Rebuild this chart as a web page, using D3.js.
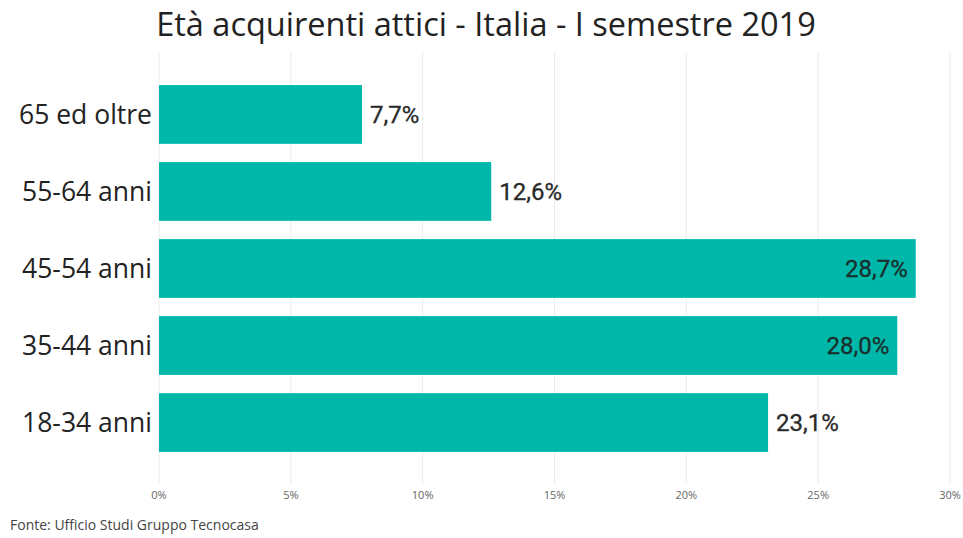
<!DOCTYPE html>
<html><head><meta charset="utf-8">
<script src="https://cdn.jsdelivr.net/npm/d3@7"></script>
<style>body{margin:0;background:#fff}svg{display:block}</style>
</head><body>
<svg id="c" width="963" height="538"></svg>
<script>
const categories = ["65 ed oltre","55-64 anni","45-54 anni","35-44 anni","18-34 anni"];
const values = [7.7, 12.6, 28.7, 28.0, 23.1];
const valueLabels = ["7,7%","12,6%","28,7%","28,0%","23,1%"];
const ticks = [0,5,10,15,20,25,30];
const tickLabels = ["0%","5%","10%","15%","20%","25%","30%"];

const svg = d3.select("#c");
const x = d3.scaleLinear().domain([0,30]).range([159,950]);
const y = d3.scaleBand().domain(categories).range([76,461]).paddingInner(0.237).paddingOuter(0.118);

svg.append("text").attr("x",486).attr("y",36).attr("text-anchor","middle")
  .attr("font-family","Open Sans").attr("font-size",32.5).attr("fill","#222")
  .text("Età acquirenti attici - Italia - I semestre 2019");

svg.append("g").selectAll("line").data(ticks).join("line")
  .attr("x1",d=>x(d)).attr("x2",d=>x(d)).attr("y1",52).attr("y2",484)
  .attr("stroke","#ececec").attr("stroke-width",1);

svg.append("g").selectAll("text").data(ticks).join("text")
  .attr("x",d=>x(d)).attr("y",499).attr("text-anchor","middle")
  .attr("font-family","Open Sans").attr("font-size",11).attr("fill","#666")
  .text((d,i)=>tickLabels[i]);

svg.append("g").selectAll("rect").data(values).join("rect")
  .attr("x",x(0)).attr("y",(d,i)=>y(categories[i]))
  .attr("width",d=>x(d)-x(0)).attr("height",y.bandwidth())
  .attr("fill","#00b8a9");

svg.append("g").selectAll("text").data(categories).join("text")
  .attr("x",152).attr("y",d=>y(d)+y.bandwidth()/2).attr("dy","0.35em")
  .attr("text-anchor","end").attr("font-family","Open Sans").attr("font-size",26.5).attr("fill","#222")
  .text(d=>d);

svg.append("g").selectAll("text").data(values).join("text")
  .attr("x",d=> d>25 ? x(d)-8 : x(d)+8)
  .attr("y",(d,i)=>y(categories[i])+y.bandwidth()/2).attr("dy","0.36em")
  .attr("text-anchor",d=> d>25 ? "end" : "start")
  .attr("font-family","Roboto, sans-serif").attr("font-size",24).attr("fill",d=>d>25?"#1a2e2c":"#2a2a2a")
  .attr("stroke",d=>d>25?"#1a2e2c":"#2a2a2a").attr("stroke-width",0.3)
  .text((d,i)=>valueLabels[i]);

svg.append("text").attr("x",10).attr("y",530)
  .attr("font-family","Open Sans").attr("font-size",14).attr("fill","#444")
  .text("Fonte: Ufficio Studi Gruppo Tecnocasa");
</script>
</body></html>
